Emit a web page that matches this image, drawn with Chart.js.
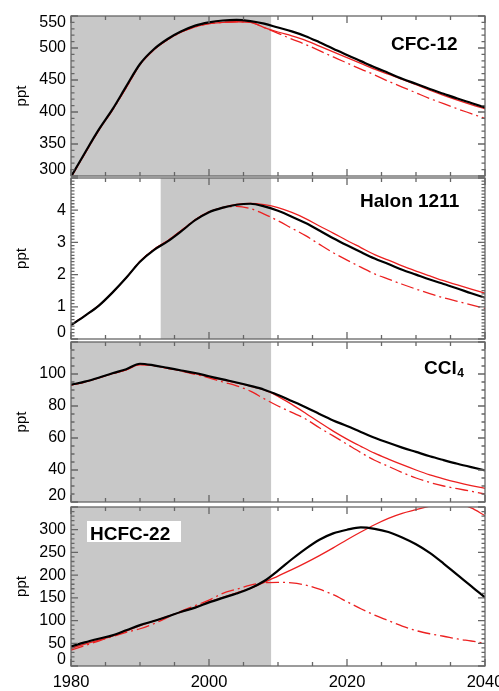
<!DOCTYPE html>
<html><head><meta charset="utf-8">
<script src="https://cdn.jsdelivr.net/npm/chart.js@4/dist/chart.umd.min.js"></script>
<style>
html,body{margin:0;padding:0;background:#fff;}
#wrap{position:relative;width:499px;height:691px;overflow:hidden;}
canvas{position:absolute;left:0;top:0;}
</style></head><body><div id="wrap">
<canvas id="c1" width="499" height="691"></canvas>
<canvas id="c2" width="499" height="691"></canvas>
<canvas id="c3" width="499" height="691"></canvas>
<canvas id="c4" width="499" height="691"></canvas>
</div>
<script>
// ---- data ----
const years = [1980,1982,1984,1986,1988,1990,1992,1994,1996,1998,2000,2002,2004,2006,2008,2010,2012,2014,2016,2018,2020,2022,2024,2026,2028,2030,2032,2034,2036,2038,2040];
const xTickValues = [1980, 2000, 2020, 2040];

const cfc12Black = [299,336,372,404,440,475,498,514,526,535,540,543,544,542,538,532,526,518.5,509,499,489,479.5,470,461,452,444,436,428.5,421,414,407];
const cfc12Red   = [298,335,371,403,438,474,497,513,525,533,538,540,541,540,532,525,519,512,503,494,485,476,467,459,451,442.7,434,426,418.5,411.5,405];
const cfc12Dash  = [298,335,371,403,438,474,497,513,525,533,538,540,541,540,532,523,514,505.5,496,486,476.5,467,458,448,439,430,421,413,405,397.5,390];

const halonBlack = [0.43,0.72,1.03,1.44,1.9,2.4,2.76,3.03,3.35,3.69,3.94,4.08,4.17,4.2,4.12,3.98,3.8,3.6,3.37,3.13,2.91,2.7,2.5,2.33,2.15,2.0,1.85,1.71,1.57,1.42,1.28];
const halonRed   = [0.43,0.72,1.03,1.44,1.9,2.41,2.78,3.05,3.37,3.7,3.95,4.09,4.18,4.21,4.17,4.08,3.93,3.74,3.51,3.29,3.06,2.84,2.62,2.45,2.27,2.11,1.96,1.81,1.68,1.55,1.42];
const halonDash  = [0.43,0.72,1.03,1.44,1.9,2.41,2.78,3.05,3.37,3.7,3.95,4.07,4.12,4.05,3.88,3.67,3.44,3.21,2.94,2.68,2.45,2.23,2.02,1.86,1.7,1.55,1.41,1.28,1.17,1.06,0.95];

const ccl4Black = [93.3,95.2,97.7,100.5,103,106.4,105.4,103.8,102.2,100.6,98.6,96.6,94.7,92.6,90.2,86.9,83.1,79.2,75,71,67.5,63.8,60.2,57,54,51.3,48.6,46.2,43.9,41.8,39.8];
const ccl4Red   = [93.0,95.0,97.5,100.2,102.6,105.8,105.2,103.6,102.0,100.3,98.2,96.4,94.5,92.4,90,86,81,75.5,69.8,64.3,59.3,54.8,50.5,46.8,43.3,40,37,34.5,32.3,30.3,28.5];
const ccl4Dash  = [93.0,95.0,97.5,100.2,102.6,105.8,105.2,103.6,101.8,99.8,97.6,95,92.6,89.3,84.5,80,76,71.9,66.4,61.3,56.1,50.9,46.1,42.3,38.4,35,32.2,30,28.3,26.7,25];

const hcfc22Black = [43,52,60,67.5,78.5,90,99,109,119.5,128.5,140,150,159.5,171,187,210,235,258,278,292,300,305,302,295,283,268,249,225.5,200.5,176,150.7];
const hcfc22Red   = [39,48,57,66,77,89,99,109,119,129,141,151,161,171,184,198,212,227,243,260,278,295,311,325,336,344,352,360,358,348,331];
const hcfc22Dash  = [35,45,55,65,74,82,93,107,121,133,145,160,169,178,183,184,183,178,169,157,141.5,126,112,100,88,78,71,65.5,59.5,55,50];

const shadeEnd = 2009;
const shadeStartDefault = 1980;
const shadeStartHalon = 1993;

// ---- drawing ----
const FONT = "'Liberation Sans', Arial, Helvetica, sans-serif";

const framePlugin = {
  id: 'frame',
  beforeDatasetsDraw(chart, args, o) {
    const {ctx, chartArea: a, scales: {x}} = chart;
    const x0 = x.getPixelForValue(o.shade[0]), x1 = x.getPixelForValue(o.shade[1]);
    ctx.save();
    ctx.fillStyle = '#c8c8c8';
    ctx.fillRect(x0, a.top, x1 - x0, a.bottom - a.top);
    ctx.restore();
  },
  afterDatasetsDraw(chart, args, o) {
    const {ctx, chartArea: a, scales: {x, y}} = chart;
    ctx.save();
    ctx.strokeStyle = '#666';
    ctx.lineWidth = 1.3;
    ctx.strokeRect(a.left, a.top, a.right - a.left, a.bottom - a.top);
    ctx.beginPath();
    const nx = Math.round((x.max - x.min) / 5);
    for (let i = 0; i <= nx; i++) {
      const v = x.min + i * 5;
      const px = x.getPixelForValue(v);
      const len = (i % 4 === 0) ? 7 : 4;
      ctx.moveTo(px, a.bottom); ctx.lineTo(px, a.bottom - len);
      ctx.moveTo(px, a.top); ctx.lineTo(px, a.top + len);
    }
    const ny = Math.round((y.max - y.min) / o.yMinor);
    const per = Math.round(o.yStep / o.yMinor);
    for (let i = 0; i <= ny; i++) {
      const v = y.min + i * o.yMinor;
      const py = y.getPixelForValue(v);
      const len = (i % per === 0) ? 7 : 3.5;
      ctx.moveTo(a.left, py); ctx.lineTo(a.left + len, py);
      ctx.moveTo(a.right, py); ctx.lineTo(a.right - len, py);
    }
    ctx.stroke();
    ctx.fillStyle = '#000';
    ctx.font = '16px ' + FONT;
    ctx.textAlign = 'right';
    ctx.textBaseline = 'middle';
    y.ticks.forEach(t => {
      if (t.value > o.labelMax + 1e-9) return;
      let py = y.getPixelForValue(t.value);
      py = Math.min(Math.max(py, a.top + 7), a.bottom - 6);
      ctx.fillText(String(Math.round(t.value * 100) / 100), a.left - 5, py);
    });
    ctx.restore();
  },
  afterDraw(chart, args, o) {
    const {ctx} = chart;
    ctx.save();
    if (o.box) {
      ctx.fillStyle = '#fff';
      ctx.fillRect(o.box[0], o.box[1], o.box[2], o.box[3]);
    }
    ctx.fillStyle = '#000';
    ctx.font = 'bold 19px ' + FONT;
    ctx.textAlign = 'left';
    ctx.textBaseline = 'alphabetic';
    ctx.fillText(o.title, o.tx, o.ty);
    if (o.sub) {
      const w = ctx.measureText(o.title).width;
      ctx.font = 'bold 12px ' + FONT;
      ctx.fillText(o.sub, o.tx + w + 0.5, o.ty + 3);
    }
    ctx.restore();
  }
};

const panels = [
  {id:'c1', top:16, bottom:176, ymin:300, ymax:550, ystep:50, yminor:10, labelMax:550,
   shade:[shadeStartDefault, shadeEnd], series:[cfc12Black, cfc12Red, cfc12Dash],
   title:'CFC-12', tx:391, ty:49.5},
  {id:'c2', top:178, bottom:339, ymin:0, ymax:5, ystep:1, yminor:0.1, labelMax:4,
   shade:[shadeStartHalon, shadeEnd], series:[halonBlack, halonRed, halonDash],
   title:'Halon 1211', tx:360, ty:207.3},
  {id:'c3', top:342, bottom:502, ymin:20, ymax:120, ystep:20, yminor:5, labelMax:100,
   shade:[shadeStartDefault, shadeEnd], series:[ccl4Black, ccl4Red, ccl4Dash],
   title:'CCl', sub:'4', tx:424, ty:374},
  {id:'c4', top:507, bottom:666, ymin:0, ymax:350, ystep:50, yminor:10, labelMax:300,
   shade:[shadeStartDefault, shadeEnd], series:[hcfc22Black, hcfc22Red, hcfc22Dash],
   title:'HCFC-22', tx:90, ty:540, box:[87,521,94,21], bottomAxis:true},
];

const RED = 'rgb(236,32,32)';
const H = 691;

panels.forEach(p => {
  const xh = p.bottomAxis ? (H - p.bottom) : 0;
  const toXY = arr => arr.map((v, i) => ({x: years[i], y: v}));
  new Chart(document.getElementById(p.id), {
    type: 'line',
    data: {
      datasets: [
        {data: toXY(p.series[0]), borderColor: '#000', borderWidth: 2.2},
        {data: toXY(p.series[1]), borderColor: RED, borderWidth: 1.3},
        {data: toXY(p.series[2]), borderColor: RED, borderWidth: 1.3, borderDash: [13, 4, 2, 4]},
      ]
    },
    options: {
      responsive: false,
      animation: false,
      events: [],
      elements: {point: {radius: 0}, line: {cubicInterpolationMode: 'monotone', fill: false}},
      layout: {padding: {top: p.top, bottom: H - p.bottom - xh, left: 0, right: 14}},
      plugins: {
        legend: {display: false},
        tooltip: {enabled: false},
        frame: {shade: p.shade, yStep: p.ystep, yMinor: p.yminor, labelMax: p.labelMax,
                title: p.title, sub: p.sub, tx: p.tx, ty: p.ty, box: p.box}
      },
      scales: {
        x: {
          type: 'linear', min: 1980, max: 2040,
          grid: {display: false, drawTicks: false},
          border: {display: false},
          afterBuildTicks: s => { s.ticks = xTickValues.map(v => ({value: v})); },
          ticks: {display: !!p.bottomAxis, color: '#000', padding: 7, maxRotation: 0,
                  autoSkip: false, font: {family: FONT, size: 16.5},
                  callback: v => String(v)},
          afterFit: s => { s.height = xh; s.paddingLeft = 0; s.paddingRight = 0; }
        },
        y: {
          type: 'linear', min: p.ymin, max: p.ymax,
          grid: {display: false, drawTicks: false},
          border: {display: false},
          ticks: {display: false, stepSize: p.ystep},
          title: {display: true, text: 'ppt', color: '#000', font: {family: FONT, size: 15},
                  padding: {top: 13, bottom: 0}},
          afterFit: s => { s.width = 71; s.paddingTop = 0; s.paddingBottom = 0; }
        }
      }
    },
    plugins: [framePlugin]
  });
});
</script>
</body></html>
